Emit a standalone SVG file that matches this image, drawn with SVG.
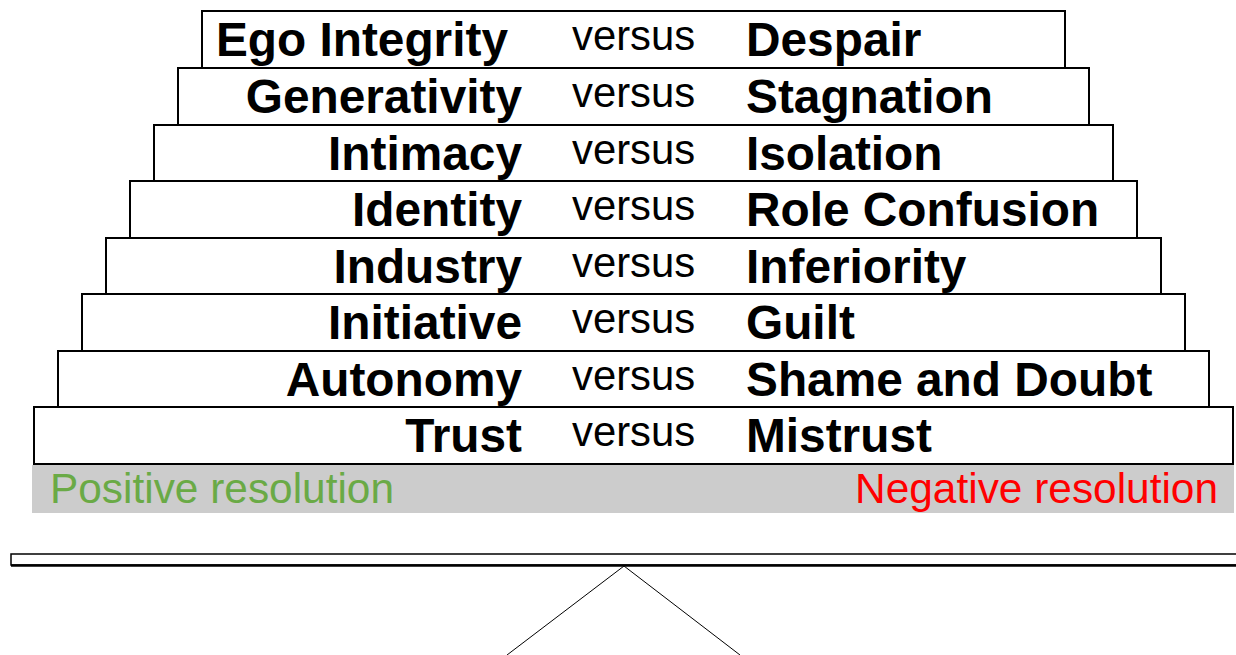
<svg xmlns="http://www.w3.org/2000/svg" width="1236" height="655" viewBox="0 0 1236 655">
<style>
.box{fill:#fff;stroke:#000;stroke-width:2}
.b{font-family:"Liberation Sans",Arial,sans-serif;font-weight:bold;font-size:47.8px;fill:#000}
.v{font-family:"Liberation Sans",Arial,sans-serif;font-size:41.8px;fill:#000}
.r{font-family:"Liberation Sans",Arial,sans-serif;font-size:42.4px}
</style>
<rect x="0" y="0" width="1236" height="655" fill="#fff"/>
<g id="band">
<rect x="32" y="465" width="1202" height="48" fill="#cccccc"/>
<text class="r" x="50" y="503" fill="#6aaa46">Positive resolution</text>
<text class="r" x="1218" y="503" fill="#ff0000" text-anchor="end">Negative resolution</text>
</g>
<g id="trust"><rect class="box" x="34" y="407" width="1199" height="57"/><text class="b" x="522" y="452" text-anchor="end">Trust</text><text class="v" x="572" y="446">versus</text><text class="b" x="746" y="452">Mistrust</text></g>
<g id="autonomy"><rect class="box" x="58" y="351" width="1151" height="56"/><text class="b" x="522" y="396" text-anchor="end">Autonomy</text><text class="v" x="572" y="390">versus</text><text class="b" x="746" y="396">Shame and Doubt</text></g>
<g id="initiative"><rect class="box" x="82" y="294" width="1103" height="57"/><text class="b" x="522" y="339" text-anchor="end">Initiative</text><text class="v" x="572" y="333">versus</text><text class="b" x="746" y="339">Guilt</text></g>
<g id="industry"><rect class="box" x="106" y="238" width="1055" height="56"/><text class="b" x="522" y="283" text-anchor="end">Industry</text><text class="v" x="572" y="277">versus</text><text class="b" x="746" y="283">Inferiority</text></g>
<g id="identity"><rect class="box" x="130" y="181" width="1007" height="57"/><text class="b" x="522" y="226" text-anchor="end">Identity</text><text class="v" x="572" y="220">versus</text><text class="b" x="746" y="226">Role Confusion</text></g>
<g id="intimacy"><rect class="box" x="154" y="125" width="959" height="56"/><text class="b" x="522" y="170" text-anchor="end">Intimacy</text><text class="v" x="572" y="164">versus</text><text class="b" x="746" y="170">Isolation</text></g>
<g id="generativity"><rect class="box" x="178" y="68" width="911" height="57"/><text class="b" x="522" y="113" text-anchor="end">Generativity</text><text class="v" x="572" y="107">versus</text><text class="b" x="746" y="113">Stagnation</text></g>
<g id="ego"><rect class="box" x="202" y="11" width="863" height="57"/><text class="b" x="508" y="56" text-anchor="end">Ego Integrity</text><text class="v" x="572" y="50">versus</text><text class="b" x="746" y="56">Despair</text></g>
<g id="seesaw">
<rect x="11" y="554" width="1240" height="11" fill="#fff" stroke="#000" stroke-width="1.5"/>
<line x1="11" y1="565.5" x2="1236" y2="565.5" stroke="#000" stroke-width="2.5"/>
</g>
<g id="connectors" fill="none" stroke="#000" stroke-width="1">
<polyline points="507,655 624,566 740,655"/>
</g>
</svg>
